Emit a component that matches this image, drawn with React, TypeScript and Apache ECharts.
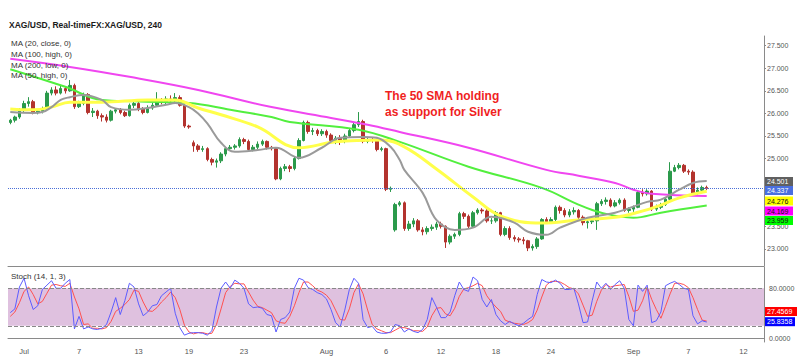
import React, { useEffect, useRef } from "react";
import * as echarts from "echarts";

// ---- data ----
const SLOT_COUNT = 165;
const xTickIdx = [3, 15, 28, 39, 51, 69, 82, 94, 106, 118, 136, 148, 160];
const xTickLabels = ["Jul", "7", "13", "19", "23", "Aug", "6", "12", "18", "24", "Sep", "7", "12"];
// price-axis ticks that the value badges cover in the reference
const hiddenPriceTicks = [24.0, 24.5];

const opens = [25.80,25.85,25.92,26.08,26.22,26.26,26.02,26.05,26.10,26.45,26.52,26.45,26.55,26.50,26.62,26.15,26.22,26.42,26.02,26.05,25.95,25.92,25.85,26.05,26.08,26.02,25.95,26.18,26.22,26.10,26.02,26.12,26.18,26.30,26.25,26.32,26.28,26.35,26.18,25.72,25.35,25.28,25.20,25.22,24.98,24.92,24.95,25.10,25.22,25.25,25.28,25.42,25.38,25.20,25.25,25.32,25.38,25.25,25.22,24.55,24.78,24.82,24.78,25.00,25.40,25.80,25.60,25.62,25.55,25.60,25.52,25.40,25.45,25.38,25.50,25.62,25.75,25.82,25.38,25.42,25.40,25.20,25.22,24.32,23.42,23.98,24.02,23.45,23.55,23.62,23.42,23.38,23.45,23.48,23.55,23.50,23.15,23.28,23.32,23.78,23.72,23.50,23.80,23.86,23.84,23.62,23.62,23.80,23.32,23.45,23.25,23.22,23.20,23.18,23.02,23.05,23.22,23.65,23.60,23.65,23.92,23.85,23.75,23.82,23.85,23.70,23.58,23.60,23.62,24.00,24.05,24.08,23.95,24.02,24.08,23.85,23.88,23.92,24.25,24.22,24.28,23.88,23.92,23.98,24.10,24.72,24.80,24.85,24.72,24.70,24.24,24.30,24.36];
const closes = [25.85,25.92,26.08,26.22,26.26,26.02,26.05,26.10,26.45,26.52,26.45,26.55,26.50,26.62,26.15,26.22,26.42,26.02,26.05,25.95,25.92,25.85,26.05,26.08,26.02,25.95,26.18,26.22,26.10,26.02,26.12,26.18,26.30,26.25,26.32,26.28,26.35,26.18,25.72,25.70,25.28,25.20,25.22,24.98,24.92,24.95,25.10,25.22,25.25,25.28,25.42,25.38,25.20,25.25,25.32,25.38,25.25,25.22,24.55,24.78,24.82,24.78,25.00,25.40,25.80,25.60,25.62,25.55,25.60,25.52,25.40,25.45,25.38,25.50,25.62,25.75,25.82,25.38,25.42,25.40,25.20,25.22,24.32,24.34,23.98,24.02,23.45,23.55,23.62,23.42,23.38,23.45,23.48,23.55,23.50,23.15,23.28,23.32,23.78,23.72,23.50,23.80,23.86,23.84,23.62,23.62,23.80,23.32,23.45,23.25,23.22,23.20,23.18,23.02,23.05,23.22,23.65,23.60,23.65,23.92,23.85,23.75,23.82,23.85,23.70,23.58,23.60,23.62,24.00,24.05,24.08,23.95,24.02,24.08,23.85,23.88,23.92,24.25,24.22,24.28,23.88,23.92,23.98,24.10,24.72,24.80,24.85,24.72,24.70,24.24,24.30,24.36,24.337];
const lows = [25.76,25.80,25.88,26.03,26.15,25.98,25.98,26.00,26.08,26.40,26.40,26.42,26.44,26.48,26.10,26.12,26.18,25.98,25.92,25.88,25.82,25.80,25.82,26.00,25.98,25.92,25.93,26.12,26.05,25.98,26.00,26.08,26.15,26.20,26.20,26.22,26.24,26.15,25.68,25.66,25.15,25.15,25.15,24.94,24.85,24.80,24.90,25.05,25.18,25.20,25.24,25.32,25.15,25.16,25.20,25.28,25.20,25.18,24.52,24.52,24.72,24.70,24.74,24.98,25.38,25.55,25.52,25.50,25.50,25.46,25.35,25.32,25.30,25.34,25.46,25.58,25.70,25.34,25.34,25.35,25.16,25.16,24.28,24.26,23.38,23.94,23.40,23.40,23.48,23.38,23.30,23.32,23.40,23.42,23.45,23.02,23.10,23.22,23.28,23.66,23.46,23.48,23.76,23.78,23.58,23.55,23.58,23.28,23.28,23.20,23.16,23.14,23.10,22.95,22.96,23.00,23.20,23.55,23.56,23.60,23.78,23.70,23.70,23.76,23.65,23.52,23.45,23.55,23.42,23.95,23.98,23.92,23.92,23.98,23.82,23.80,23.82,23.90,24.16,24.18,23.84,23.84,23.88,23.95,24.08,24.70,24.76,24.68,24.64,24.20,24.20,24.26,24.30];
const highs = [25.88,25.95,26.12,26.28,26.36,26.30,26.10,26.15,26.50,26.58,26.60,26.62,26.60,26.74,26.66,26.28,26.46,26.45,26.12,26.08,26.00,25.98,26.08,26.12,26.12,26.06,26.22,26.28,26.25,26.14,26.18,26.24,26.47,26.34,26.38,26.40,26.45,26.40,26.20,25.75,25.40,25.32,25.28,25.25,25.02,25.00,25.14,25.26,25.30,25.32,25.47,25.46,25.42,25.30,25.38,25.42,25.40,25.28,25.24,24.82,24.88,24.86,25.05,25.45,25.84,25.84,25.68,25.66,25.65,25.64,25.56,25.50,25.52,25.55,25.66,25.80,26.03,25.86,25.48,25.46,25.44,25.26,25.24,24.38,24.02,24.06,24.05,23.62,23.68,23.66,23.48,23.50,23.54,23.60,23.60,23.52,23.32,23.36,23.82,23.82,23.76,23.84,23.90,23.90,23.88,23.68,23.84,23.82,23.50,23.50,23.30,23.26,23.26,23.20,23.10,23.26,23.68,23.70,23.70,23.96,23.96,23.90,23.88,23.92,23.88,23.74,23.66,23.68,24.04,24.10,24.14,24.12,24.08,24.12,24.12,23.92,23.96,24.30,24.32,24.32,24.30,23.98,24.02,24.14,24.92,24.86,24.90,24.88,24.76,24.74,24.36,24.40,24.40];

// moving averages, sampled at candle indices
const ma20Idx = [0,5,7,9,11,13,16,20,22,26,30,34,36,39,41,43,46,49,54,58,63,68,72,77,80,83,85,86,90,93,97,101,105,110,113,117,120,126,132,139,142,146,149,152];
const ma20Val = [26.03,26.01,26.03,26.14,26.30,26.36,26.41,26.30,26.14,26.08,26.12,26.19,26.23,26.14,26.00,25.78,25.35,25.15,25.19,25.24,25.02,25.24,25.46,25.48,25.46,25.26,24.97,24.75,24.24,23.64,23.42,23.47,23.71,23.58,23.38,23.31,23.47,23.69,23.80,24.04,24.09,24.31,24.46,24.501];
const ma100Idx = [0,13,26,41,57,70,78,85,100,117,124,132,136,140,152];
const ma100Val = [27.21,27.03,26.81,26.52,26.14,25.90,25.75,25.59,25.24,24.75,24.62,24.46,24.31,24.22,24.169];
const ma200Idx = [0,12,20,39,48,57,61,76,85,100,116,124,129,136,142,152];
const ma200Val = [26.98,26.59,26.30,26.23,26.08,25.92,25.81,25.64,25.37,24.82,24.35,23.98,23.80,23.69,23.80,23.959];
const ma50Idx = [0,5,9,13,20,30,36,41,46,54,63,71,81,86,93,101,107,116,124,132,137,142,146,152];
const ma50Val = [26.10,26.08,26.14,26.25,26.25,26.30,26.30,26.12,25.97,25.70,25.24,25.37,25.41,25.26,24.77,24.15,23.73,23.57,23.64,23.70,23.81,23.97,24.13,24.276];

// stochastic (14, 1, 3)
const stochK = [41,47,82,96,68,46,52,78,85,92,80,80,88,94,15,35,15,18,15,14,16,22,42,65,38,60,88,82,55,36,42,52,54,68,74,80,40,17,5,8,9,9,8,5,12,50,80,90,80,93,88,80,55,49,50,48,38,36,10,30,33,42,80,96,93,81,78,73,70,63,46,25,18,45,78,96,88,30,17,19,10,8,8,10,22,20,10,15,11,9,14,30,65,50,33,33,42,68,90,78,75,98,92,62,50,62,38,28,22,27,23,20,24,30,35,70,94,90,89,93,88,78,78,80,55,25,26,60,90,80,88,78,86,92,80,30,20,85,75,85,25,28,42,84,88,91,86,80,78,36,23,28,25.8358];
const stochD = [35,42,57,75,82,70,55,59,72,85,86,84,83,88,66,47,22,23,16,16,15,17,27,43,48,54,62,77,75,58,44,43,49,58,65,74,65,46,21,10,7,9,9,7,8,22,47,73,83,88,87,87,74,61,51,49,45,41,28,25,24,35,52,73,90,90,84,77,74,69,60,45,30,29,47,73,87,71,45,22,15,12,9,9,13,17,17,15,12,12,11,18,36,48,49,39,36,48,67,79,81,84,88,84,68,58,50,43,29,26,24,23,22,25,30,45,66,85,91,91,90,86,81,79,71,53,35,37,59,77,86,82,84,85,86,67,43,45,60,82,62,46,32,51,71,88,88,86,81,65,46,29,27.4569];
const stochBands = [20, 80];

const FONT = "'Liberation Sans', Arial, sans-serif";

function sparse(idx: number[], val: number[]) {
  const a: (number | null)[] = new Array(SLOT_COUNT).fill(null);
  idx.forEach((k, j) => { a[k] = val[j]; });
  return a;
}

function txt(text: string, x: number, y: number, size: number, color: string, weight = "normal") {
  return {
    type: "text", x, y, z: 100, silent: true,
    style: { text, fill: color, font: `${weight} ${size}px ${FONT}`, textVerticalAlign: "middle", verticalAlign: "middle" },
  };
}

function badge(text: string, cy: number, w: number, bg: string, fg: string) {
  return {
    type: "group", z: 100, silent: true,
    children: [
      { type: "rect", z: 100, shape: { x: 765, y: cy - 4.5, width: w, height: 9 }, style: { fill: bg } },
      { type: "text", z: 101, x: 767, y: cy, style: { text, fill: fg, font: `7px ${FONT}`, textVerticalAlign: "middle", verticalAlign: "middle" } },
    ],
  };
}

export default function App() {
  const ref = useRef<HTMLDivElement>(null);
  useEffect(() => {
    document.body.style.margin = "0";
    if (!ref.current) return;
    const chart = echarts.init(ref.current, undefined, { renderer: "svg" });
    const cats = Array.from({ length: SLOT_COUNT }, (_, i) => String(i));
    const tickMap = new Map<number, string>();
    xTickIdx.forEach((k, j) => tickMap.set(k, xTickLabels[j]));
    const candles = opens.map((o, i) => [o, closes[i], lows[i], highs[i]]);
    const last = closes.length - 1;

    const maLine = (name: string, data: (number | null)[], color: string, width: number, z: number) => ({
      name, type: "line", xAxisIndex: 0, yAxisIndex: 0, data, connectNulls: true, smooth: 0.4,
      showSymbol: false, symbol: "none", z, silent: true,
      lineStyle: { color, width },
    });

    chart.setOption({
      animation: false,
      backgroundColor: "#ffffff",
      grid: [
        { left: 8, right: 36, top: 36, height: 230 },
        { left: 8, right: 36, top: 267, height: 75 },
      ],
      xAxis: [
        {
          gridIndex: 0, type: "category", data: cats, boundaryGap: true,
          axisLine: { show: true, lineStyle: { color: "#8a8a8a", width: 1 } },
          axisTick: { show: false }, axisLabel: { show: false }, splitLine: { show: false },
        },
        {
          gridIndex: 1, type: "category", data: cats, boundaryGap: true,
          axisLine: { show: true, lineStyle: { color: "#8a8a8a", width: 1 } },
          axisTick: { show: false }, splitLine: { show: false },
          axisLabel: {
            interval: (i: number) => tickMap.has(i),
            formatter: (_v: string, i: number) => tickMap.get(i) ?? "",
            fontSize: 7.5, color: "#555", margin: 5, fontFamily: FONT,
          },
        },
      ],
      yAxis: [
        {
          gridIndex: 0, type: "value", position: "right", min: 22.62, max: 27.715, splitNumber: 10,
          axisLine: { show: true, lineStyle: { color: "#8a8a8a" } },
          axisTick: { show: true, length: 2, lineStyle: { color: "#8a8a8a" } },
          splitLine: { show: false },
          axisLabel: {
            fontSize: 7, color: "#555", margin: 3, fontFamily: FONT,
            showMinLabel: false, showMaxLabel: false,
            formatter: (v: number) =>
              hiddenPriceTicks.some((h) => Math.abs(h - v) < 1e-6) ? "" : v.toFixed(3),
          },
        },
        {
          gridIndex: 1, type: "value", position: "right", min: -6, max: 114, splitNumber: 6,
          axisLine: { show: true, lineStyle: { color: "#8a8a8a" } },
          axisTick: { show: false }, splitLine: { show: false },
          axisLabel: {
            fontSize: 7, color: "#555", margin: 5, fontFamily: FONT,
            showMinLabel: false, showMaxLabel: false,
            formatter: (v: number) => (v === 0 || v === 80 ? v.toFixed(4) : ""),
          },
        },
      ],
      series: [
        {
          type: "candlestick", xAxisIndex: 0, yAxisIndex: 0, data: candles, barWidth: 3, z: 2, silent: true,
          itemStyle: { color: "#2b9a4b", color0: "#b3332e", borderColor: "#2b9a4b", borderColor0: "#b3332e", borderWidth: 1 },
          markLine: {
            silent: true, symbol: "none", label: { show: false },
            lineStyle: { color: "#4a6fd8", type: "dotted", width: 1 },
            data: [{ yAxis: closes[last] }],
          },
        },
        maLine("MA (100, high, 0)", sparse(ma100Idx, ma100Val), "#f046f0", 2, 3),
        maLine("MA (200, low, 0)", sparse(ma200Idx, ma200Val), "#52ef3e", 2, 3),
        maLine("MA (50, high, 0)", sparse(ma50Idx, ma50Val), "#ffff4a", 3, 4),
        maLine("MA (20, close, 0)", sparse(ma20Idx, ma20Val), "#9a9a9a", 2, 5),
        {
          name: "%K", type: "line", xAxisIndex: 1, yAxisIndex: 1, data: stochK, symbol: "none", showSymbol: false,
          lineStyle: { color: "#5c5cff", width: 1 }, z: 4, silent: true,
          markArea: {
            silent: true, itemStyle: { color: "#dfc1df" },
            data: [[{ yAxis: stochBands[0] }, { yAxis: stochBands[1] }]],
          },
          markLine: {
            silent: true, symbol: "none", label: { show: false },
            lineStyle: { color: "#888", type: "dashed", width: 1 },
            data: stochBands.map((b) => ({ yAxis: b })),
          },
        },
        {
          name: "%D", type: "line", xAxisIndex: 1, yAxisIndex: 1, data: stochD, symbol: "none", showSymbol: false,
          lineStyle: { color: "#ff5050", width: 1 }, z: 3, silent: true,
        },
      ],
      graphic: [
        txt("XAG/USD, Real-timeFX:XAG/USD, 240", 9, 25, 8.5, "#1a1a1a", "bold"),
        txt("MA (20, close, 0)", 11, 43.7, 8, "#333"),
        txt("MA (100, high, 0)", 11, 54.5, 8, "#333"),
        txt("MA (200, low, 0)", 11, 65.2, 8, "#333"),
        txt("MA (50, high, 0)", 11, 75.8, 8, "#333"),
        txt("Stoch (14, 1, 3)", 11, 276.7, 8, "#333"),
        {
          type: "text", x: 385, y: 88, z: 100, silent: true,
          style: {
            text: "The 50 SMA holding\nas support for Silver", fill: "#f01f1f",
            font: `bold 12px ${FONT}`, lineHeight: 16,
          },
        },
        badge(ma20Val[ma20Val.length - 1].toFixed(3), 181.5, 28, "#606060", "#ffffff"),
        badge(closes[last].toFixed(3), 190.5, 28, "#4a6fe0", "#ffffff"),
        badge(ma50Val[ma50Val.length - 1].toFixed(3), 201, 28, "#ffff00", "#111111"),
        badge(ma100Val[ma100Val.length - 1].toFixed(3), 211, 28, "#ff00ff", "#111111"),
        badge(ma200Val[ma200Val.length - 1].toFixed(3), 220.5, 28, "#00ff00", "#111111"),
        badge(stochD[stochD.length - 1].toFixed(4), 311.5, 32, "#ff0000", "#ffffff"),
        badge(stochK[stochK.length - 1].toFixed(4), 321.7, 30, "#0000ff", "#ffffff"),
      ],
    });
    return () => chart.dispose();
  }, []);
  return <div ref={ref} style={{ width: 800, height: 357 }} />;
}
